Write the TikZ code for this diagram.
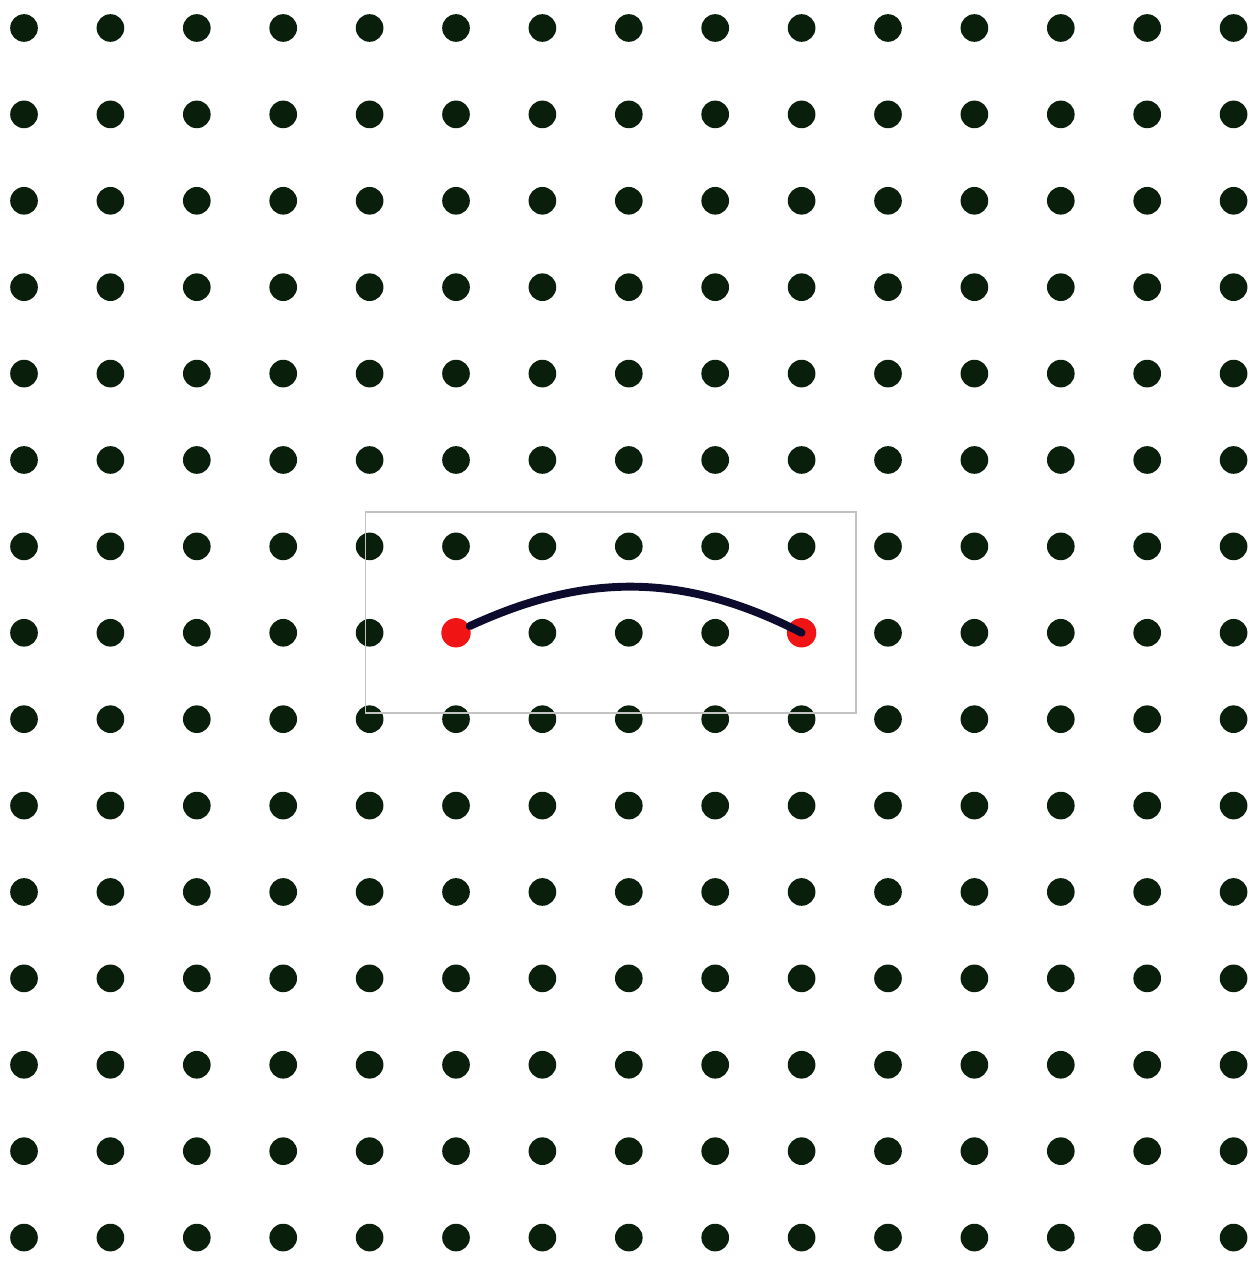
\documentclass[tikz,border=0pt]{standalone}
\usepackage{tikz}
\usetikzlibrary{positioning}

\definecolor{dotgreen}{RGB}{10,30,12}
\definecolor{pathnavy}{RGB}{12,10,45}
\definecolor{hitred}{RGB}{240,20,20}
\definecolor{framegray}{RGB}{195,195,195}

\begin{document}
\begin{tikzpicture}[
  dot/.style={circle, fill=dotgreen, inner sep=0pt, minimum size=3.2mm},
  hit/.style={circle, fill=hitred, inner sep=0pt, minimum size=3.4mm},
  link/.style={draw=pathnavy, line width=2.6pt, line cap=round}
]
  \useasboundingbox (-0.278,0.324) rectangle (14.282,-14.306);
  \foreach \i in {0,...,14}
    \foreach \j in {0,...,14}
      \node[dot] (d-\i-\j) at (\i,-\j) {};
  \draw[framegray, line width=0.5pt] (3.95,-5.6) rectangle (9.63,-7.93);
  \node[hit] (start) at (d-5-7) {};
  \node[hit] (end) at (d-9-7) {};
  \draw[link] (start) to[bend left=26] (end.center);
\end{tikzpicture}
\end{document}
